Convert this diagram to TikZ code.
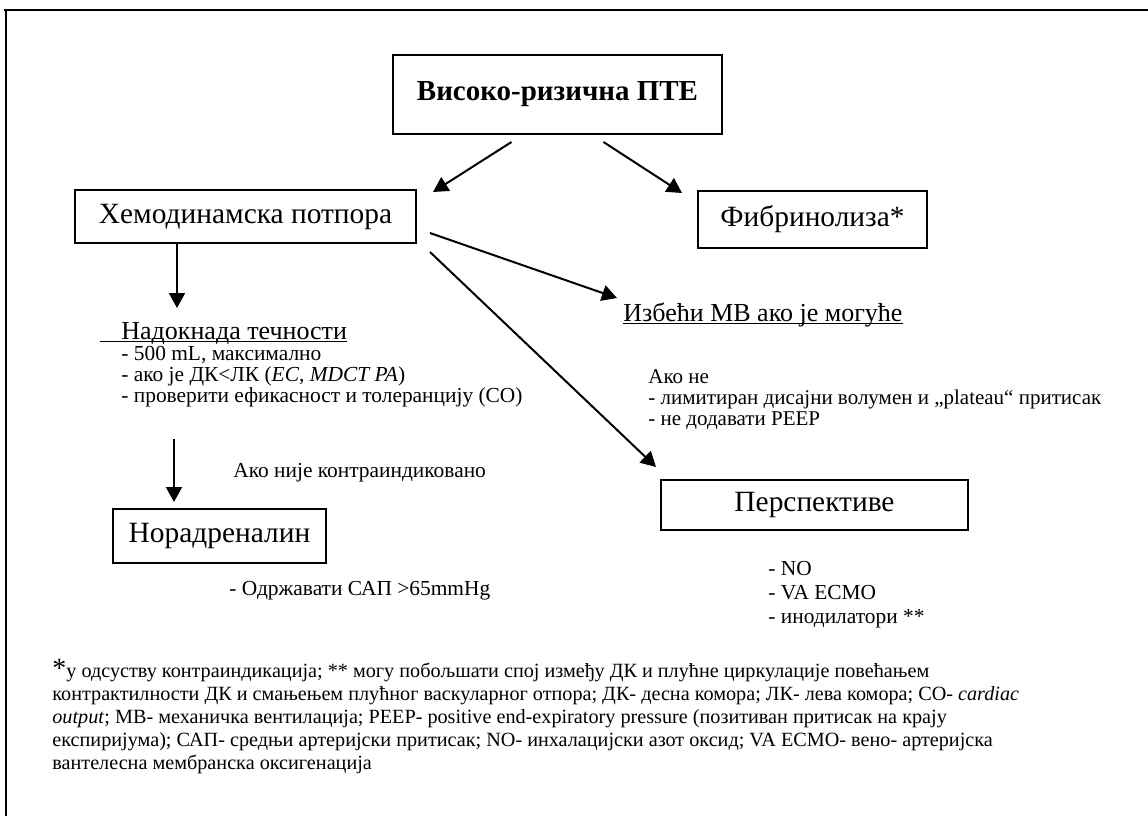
\documentclass[tikz,border=0pt]{standalone}
\usepackage{fontspec}
\setmainfont{Liberation Serif}
\usetikzlibrary{positioning,arrows.meta}
\tikzset{
  box/.style={draw,line width=1pt,inner sep=0pt,align=center,font=\fontsize{14.7}{16}\selectfont},
  arrow/.style={-{Triangle[length=7.5pt,width=8pt]},line width=1pt},
  head/.style={inner sep=0pt,font=\fontsize{13}{15}\selectfont},
  uline/.style={line width=0.6pt},
  note/.style={inner sep=0pt,align=left,font=\fontsize{10.7}{10.5}\selectfont},
}

\begin{document}
\begin{tikzpicture}[x=0.5pt,y=-0.5pt]
  \useasboundingbox (0,0) rectangle (1148,816);
  % frame of the figure
  \draw[line width=1pt] (4,10) -- (1148,10);
  \draw[line width=0.7pt] (6,10) -- (6,816);

  % boxes
  \node[box,minimum width=164.5pt,minimum height=39.5pt,font=\fontsize{14.5}{16}\selectfont\bfseries] (pte) at (557.5,94.5) {Високо-ризична ПТЕ};
  \node[box,minimum width=170.5pt,minimum height=26.5pt] (hemo) at (245.5,216.5) {Хемодинамска потпора};
  \node[box,minimum width=114.5pt,minimum height=28.5pt] (fibr) at (812.5,219.5) {Фибринолиза*};
  \node[box,minimum width=106.5pt,minimum height=27pt] (norad) at (219.5,536) {Норадреналин};
  \node[box,minimum width=153.5pt,minimum height=25pt] (persp) at (814.5,505) {Перспективе};

  % texts
  \node[head,anchor=base west] (fluid) at (100,339) {\hspace{10.5pt}Надокнада течности};
  \draw[uline] ([yshift=-1.2pt]fluid.base west) -- ([yshift=-1.2pt]fluid.base east);
  \node[note,anchor=north west] (fluidlist) at (121,346) {- 500 mL, максимално\\- ако је ДК<ЛК (\textit{EC, MDCT PA})\\- проверити ефикасност и толеранцију (CO)};
  \node[note,anchor=west] (contra) at (233,473) {Ако није контраиндиковано};
  \node[note,anchor=west] (map) at (229,591) {- Одржавати САП >65mmHg};
  \node[head,anchor=base west] (mv) at (623,321) {Избећи МВ ако је могуће};
  \draw[uline] ([yshift=-1.2pt]mv.base west) -- ([yshift=-1.2pt]mv.base east);
  \node[note,anchor=north west,font=\fontsize{10.5}{10.5}\selectfont] (mvlist) at (648,369) {Ако не\\- лимитиран дисајни волумен и „plateau“ притисак\\- не додавати PEEP};
  \node[note,anchor=north west] (persplist) at (768,561) {- NO\\[1.5pt]- VA ECMO\\[1.5pt]- инодилатори **};

  % footnote
  \node[inner sep=0pt,align=left,anchor=north west,font=\fontsize{10.1}{11.5}\selectfont] (foot) at (52,659)
    {{\fontsize{14}{11.5}\selectfont*}у одсуству контраиндикација; ** могу побољшати спој између ДК и плућне циркулације повећањем\\
     контрактилности ДК и смањењем плућног васкуларног отпора; ДК- десна комора; ЛК- лева комора; CO- \textit{cardiac}\\
     \textit{output}; МВ- механичка вентилација; PEEP- positive end-expiratory pressure (позитиван притисак на крају\\
     експиријума); САП- средњи артеријски притисак; NO- инхалацијски азот оксид; VA ECMO- вено- артеријска\\
     вантелесна мембранска оксигенација};

  % connectors
  \draw[arrow] ([shift={(-46,7)}]pte.south) -- ([shift={(16,3)}]hemo.north east);
  \draw[arrow] ([shift={(46,7)}]pte.south) -- ([shift={(-15,3)}]fibr.north west);
  \draw[arrow] ([shift={(-68.5,0)}]hemo.south) -- ([shift={(-68.5,64)}]hemo.south);
  \draw[arrow] ([shift={(13,16.5)}]hemo.east) -- ([shift={(-6,-23)}]mv.base west);
  \draw[arrow] ([shift={(13,35.5)}]hemo.east) -- ([shift={(-4,-12)}]persp.north west);
  \draw[arrow] ([shift={(-45.5,-69)}]norad.north) -- ([shift={(-45.5,-6)}]norad.north);
\end{tikzpicture}
\end{document}
